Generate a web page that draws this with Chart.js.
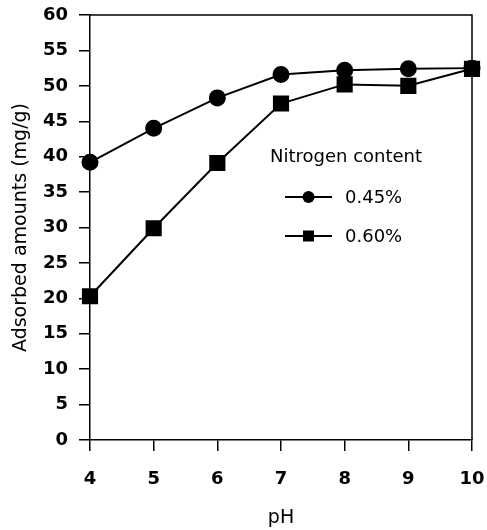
<!DOCTYPE html>
<html><head><meta charset="utf-8">
<script src="https://cdn.jsdelivr.net/npm/chart.js@4/dist/chart.umd.min.js"></script>
<style>html,body{margin:0;padding:0;background:#fff;}#wrap{width:487px;height:530px;}canvas{display:block;}</style>
</head><body>
<div id="wrap"><canvas id="c"></canvas></div>
<script>
const pH = [4, 5, 6, 7, 8, 9, 10];
const n045 = [39.2, 44.0, 48.3, 51.6, 52.2, 52.4, 52.5];
const n060 = [20.3, 29.9, 39.1, 47.5, 50.2, 50.0, 52.4];
const seriesLabels = ['0.45%', '0.60%'];
const legendTitle = 'Nitrogen content';
const xTitle = 'pH';
const yTitle = 'Adsorbed amounts (mg/g)';

const FONT = 'DejaVu Sans';

const framePlugin = {
  id: 'frame',
  beforeDatasetsDraw(chart) {
    const {ctx, chartArea: a} = chart;
    ctx.save();
    ctx.strokeStyle = '#000';
    ctx.lineWidth = 1.5;
    ctx.beginPath();
    ctx.moveTo(a.left, a.top);
    ctx.lineTo(a.right, a.top);
    ctx.lineTo(a.right, a.bottom);
    ctx.stroke();
    ctx.restore();
  }
};

const legendPlugin = {
  id: 'innerLegend',
  afterDraw(chart) {
    const {ctx, chartArea: a} = chart;
    ctx.save();
    ctx.fillStyle = '#000';
    ctx.strokeStyle = '#000';
    ctx.font = '18px "' + FONT + '"';
    ctx.textBaseline = 'middle';
    ctx.textAlign = 'left';
    const lx = a.left + 180, ly = a.top + 142;
    ctx.fillText(legendTitle, lx, ly);
    const styles = ['circle', 'rect'];
    seriesLabels.forEach((lab, i) => {
      const y = ly + 40 + i * 39;
      const x0 = a.left + 195, x1 = a.left + 242, xm = (x0 + x1) / 2;
      ctx.lineWidth = 2;
      ctx.beginPath(); ctx.moveTo(x0, y); ctx.lineTo(x1, y); ctx.stroke();
      ctx.beginPath();
      if (styles[i] === 'circle') { ctx.arc(xm, y, 6, 0, Math.PI * 2); }
      else { ctx.rect(xm - 5.5, y - 5.5, 11, 11); }
      ctx.fill();
      ctx.fillText(lab, a.left + 255, y + 1);
    });
    ctx.restore();
  }
};

new Chart(document.getElementById('c'), {
  type: 'line',
  data: {
    datasets: [
      {
        label: seriesLabels[0],
        data: pH.map((x, i) => ({x, y: n045[i]})),
        borderColor: '#000', backgroundColor: '#000', borderWidth: 2,
        pointStyle: 'circle', pointRadius: 7.5, pointHoverRadius: 7.5,
        tension: 0, clip: false
      },
      {
        label: seriesLabels[1],
        data: pH.map((x, i) => ({x, y: n060[i]})),
        borderColor: '#000', backgroundColor: '#000', borderWidth: 2,
        pointStyle: 'rect', pointRadius: 10, pointHoverRadius: 10,
        tension: 0, clip: false
      }
    ]
  },
  options: {
    responsive: true, maintainAspectRatio: false, animation: false,
    devicePixelRatio: 1,
    layout: {padding: {top: 15, right: 15, left: 0, bottom: 0}},
    plugins: {legend: {display: false}, tooltip: {enabled: false}},
    scales: {
      x: {
        type: 'linear', min: 4, max: 10,
        afterFit(s) { s.height = 90; s.paddingLeft = 0; s.paddingRight = 0; },
        ticks: {stepSize: 1, color: '#000', padding: 18, font: {family: FONT, size: 18, weight: 'bold'}},
        grid: {drawOnChartArea: false, tickLength: 11, color: '#000', tickColor: '#000', lineWidth: 1.5},
        border: {color: '#000', width: 1.5},
        title: {display: true, text: xTitle, color: '#000', font: {family: FONT, size: 19}, padding: {top: 0, bottom: 1}}
      },
      y: {
        min: 0, max: 60,
        afterFit(s) { s.width = 90; s.paddingTop = 0; s.paddingBottom = 0; },
        ticks: {stepSize: 5, color: '#000', padding: 11, font: {family: FONT, size: 18, weight: 'bold'}},
        grid: {drawOnChartArea: false, tickLength: 11, color: '#000', tickColor: '#000', lineWidth: 1.5},
        border: {color: '#000', width: 1.5},
        title: {display: true, text: yTitle, color: '#000', font: {family: FONT, size: 19}, padding: {top: 10, bottom: 0}}
      }
    }
  },
  plugins: [framePlugin, legendPlugin]
});
</script>
</body></html>
